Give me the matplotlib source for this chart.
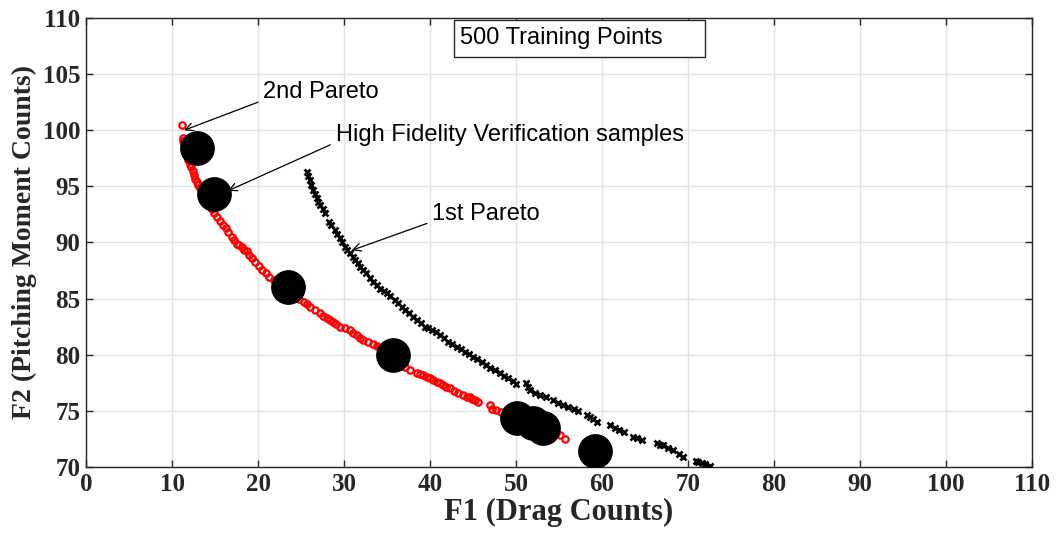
import matplotlib
matplotlib.use("Agg")
import matplotlib.pyplot as plt
from matplotlib.patches import Rectangle

# ---- data ----
pareto2_f1 = [11.2, 11.24, 11.3, 11.4, 11.5, 11.63, 11.75, 11.9, 12.05, 12.2, 12.4, 12.56,
              12.7, 12.87, 13.05, 13.26, 13.5, 13.75, 14.0, 14.3, 14.6, 14.9, 15.2, 15.6,
              15.97, 16.25, 16.55, 16.94, 17.2, 17.5, 17.8, 18.1, 18.4, 18.7, 19.0, 19.3,
              19.65, 20.1, 20.5, 20.9, 21.3, 21.9, 22.56, 23.0, 23.5, 23.9, 24.3, 24.8,
              25.3, 25.7, 26.05, 26.6, 27.2, 27.6, 28.0, 28.4, 28.76, 29.1, 29.5, 30.1,
              30.7, 31.1, 31.5, 31.85, 32.2, 32.8, 33.4, 33.8, 34.2, 34.7, 35.2, 35.9,
              36.5, 37.1, 37.7, 38.45, 38.8, 39.2, 39.6, 40.0, 40.4, 40.8, 41.2, 41.55,
              41.9, 42.3, 42.8, 43.3, 43.8, 44.3, 44.6, 44.85, 45.2, 45.6, 47.0, 47.2,
              47.7, 48.3, 48.9, 49.4, 50.0, 50.8, 51.5, 52.2, 53.0, 53.6, 54.3, 54.7,
              55.1, 55.7]
pareto2_f2 = [100.47, 99.28, 99.0, 98.8, 98.4, 98.09, 97.7, 97.35, 97.0, 96.75, 96.35, 96.0,
              95.7, 95.4, 95.1, 94.83, 94.5, 94.2, 93.9, 93.45, 93.0, 92.65, 92.3, 91.9,
              91.56, 91.25, 90.96, 90.5, 90.2, 89.9, 89.75, 89.6, 89.35, 89.2, 88.9, 88.6,
              88.3, 87.9, 87.55, 87.25, 86.95, 86.65, 86.36, 86.05, 85.8, 85.55, 85.3, 85.0,
              84.73, 84.5, 84.28, 84.0, 83.7, 83.45, 83.25, 83.1, 82.95, 82.7, 82.5, 82.35,
              82.2, 81.95, 81.76, 81.5, 81.3, 81.15, 81.0, 80.8, 80.6, 80.35, 80.1, 79.7,
              79.3, 78.95, 78.64, 78.35, 78.3, 78.2, 78.05, 77.9, 77.75, 77.6, 77.45, 77.3,
              77.15, 77.0, 76.8, 76.57, 76.42, 76.27, 76.2, 76.1, 75.95, 75.8, 75.5, 75.14,
              75.05, 74.9, 74.6, 74.45, 74.3, 74.1, 73.9, 73.7, 73.5, 73.3, 73.1, 73.0,
              72.85, 72.47]

pareto1_f1 = [25.66, 25.85, 26.05, 26.2, 26.4, 26.6, 26.8, 27.0, 27.2, 27.5, 27.8, 28.2,
              28.5, 28.95, 29.2, 29.5, 29.8, 30.1, 30.4, 30.7, 31.0, 31.3, 31.6, 31.86,
              32.2, 32.6, 33.0, 33.4, 33.8, 34.2, 34.6, 34.96, 35.4, 35.9, 36.3, 36.7,
              37.1, 37.5, 38.0, 38.45, 38.9, 39.4, 39.8, 40.2, 40.7, 41.2, 41.6, 42.1,
              42.6, 43.1, 43.6, 44.07, 44.5, 45.0, 45.5, 46.0, 46.5, 47.0, 47.5, 48.1,
              48.6, 49.1, 49.6, 50.0, 51.2, 51.4, 51.6, 52.2, 52.8, 53.5, 54.3, 54.9,
              55.5, 56.1, 56.7, 57.2, 58.2, 58.6, 59.0, 59.4, 60.9, 61.5, 62.0, 62.5,
              63.6, 64.1, 64.6, 66.35, 66.7, 67.1, 67.7, 68.3, 68.9, 69.45, 70.9, 71.2,
              71.6, 72.0, 72.6]
pareto1_f2 = [96.3, 95.9, 95.57, 95.15, 94.68, 94.3, 93.94, 93.6, 93.34, 92.95, 92.6, 91.85,
              91.55, 91.1, 90.75, 90.37, 90.0, 89.63, 89.3, 89.03, 88.75, 88.44, 88.15, 87.84,
              87.55, 87.25, 86.85, 86.5, 86.2, 85.9, 85.7, 85.47, 85.2, 84.88, 84.6, 84.28,
              84.0, 83.7, 83.4, 83.1, 82.8, 82.5, 82.35, 82.2, 82.0, 81.76, 81.45, 81.16,
              80.95, 80.7, 80.5, 80.27, 80.05, 79.8, 79.6, 79.38, 79.1, 78.8, 78.6, 78.35,
              78.1, 77.9, 77.65, 77.4, 77.45, 77.1, 76.86, 76.6, 76.4, 76.2, 76.0, 75.7,
              75.5, 75.35, 75.2, 75.0, 74.65, 74.48, 74.25, 74.04, 73.74, 73.45, 73.3, 73.15,
              72.7, 72.55, 72.4, 72.1, 72.0, 71.96, 71.7, 71.5, 71.2, 70.92, 70.55, 70.47,
              70.35, 70.25, 70.1]

hf_f1 = [12.9, 14.9, 23.5, 35.7, 50.1, 52.0, 53.1, 59.2]
hf_f2 = [98.4, 94.3, 86.0, 80.0, 74.4, 73.9, 73.5, 71.4]

xticks = list(range(0, 111, 10))
yticks = list(range(70, 111, 5))

# ---- figure ----
fig = plt.figure(figsize=(10.62, 5.39), dpi=100)
ax = fig.add_axes([0.081, 0.1336, 0.8908, 0.833])

ax.plot(pareto1_f1, pareto1_f2, linestyle='none', marker='x', color='black',
        markersize=5, markeredgewidth=1.9, zorder=3)
ax.plot(pareto2_f1, pareto2_f2, linestyle='none', marker='o', markerfacecolor='none',
        markeredgecolor='red', markersize=4.6, markeredgewidth=1.6, zorder=3)
ax.plot(hf_f1, hf_f2, linestyle='none', marker='o', color='black',
        markersize=24, zorder=4)

ax.set_xlim(0, 110)
ax.set_ylim(70, 110)
ax.set_xticks(xticks)
ax.set_yticks(yticks)
ax.grid(True, color='#e3e3e3', linewidth=1.0)
ax.set_axisbelow(True)
for s in ax.spines.values():
    s.set_color('#262626')
    s.set_linewidth(1.0)
ax.tick_params(direction='in', length=5, width=1.0, color='#262626',
               top=True, right=True, labelsize=18, labelcolor='#262626', pad=4)
for lab in ax.get_xticklabels() + ax.get_yticklabels():
    lab.set_fontfamily('Liberation Serif')
    lab.set_fontweight('bold')

ax.set_xlabel('F1 (Drag Counts)', fontsize=22, fontweight='bold',
              family='Liberation Serif', color='#262626', labelpad=2)
ax.set_ylabel('F2 (Pitching Moment Counts)', fontsize=20, fontweight='bold',
              family='Liberation Serif', color='#262626', labelpad=4)

arrow = dict(arrowstyle='->', color='black', lw=0.9, shrinkA=0, shrinkB=0,
             mutation_scale=14)
txtkw = dict(fontsize=17, family='Liberation Sans', color='black', va='center', ha='left')

ax.annotate('', xy=(11.4, 100.0), xytext=(20.0, 102.5), arrowprops=arrow)
ax.text(20.6, 103.4, '2nd Pareto', **txtkw)

ax.annotate('', xy=(16.5, 94.6), xytext=(28.4, 98.7), arrowprops=arrow)
ax.text(29.1, 99.6, 'High Fidelity Verification samples', **txtkw)

ax.annotate('', xy=(30.9, 89.3), xytext=(39.65, 91.7), arrowprops=arrow)
ax.text(40.2, 92.5, '1st Pareto', **txtkw)

ax.add_patch(Rectangle((0.389, 0.913), 0.265, 0.0825, transform=ax.transAxes,
                       facecolor='white', edgecolor='#262626', linewidth=1.0, zorder=5))
ax.text(0.395, 0.955, '500 Training Points', transform=ax.transAxes,
        fontsize=17, family='Liberation Sans', va='center', ha='left', zorder=6)

fig.savefig('out.png', dpi=100)
